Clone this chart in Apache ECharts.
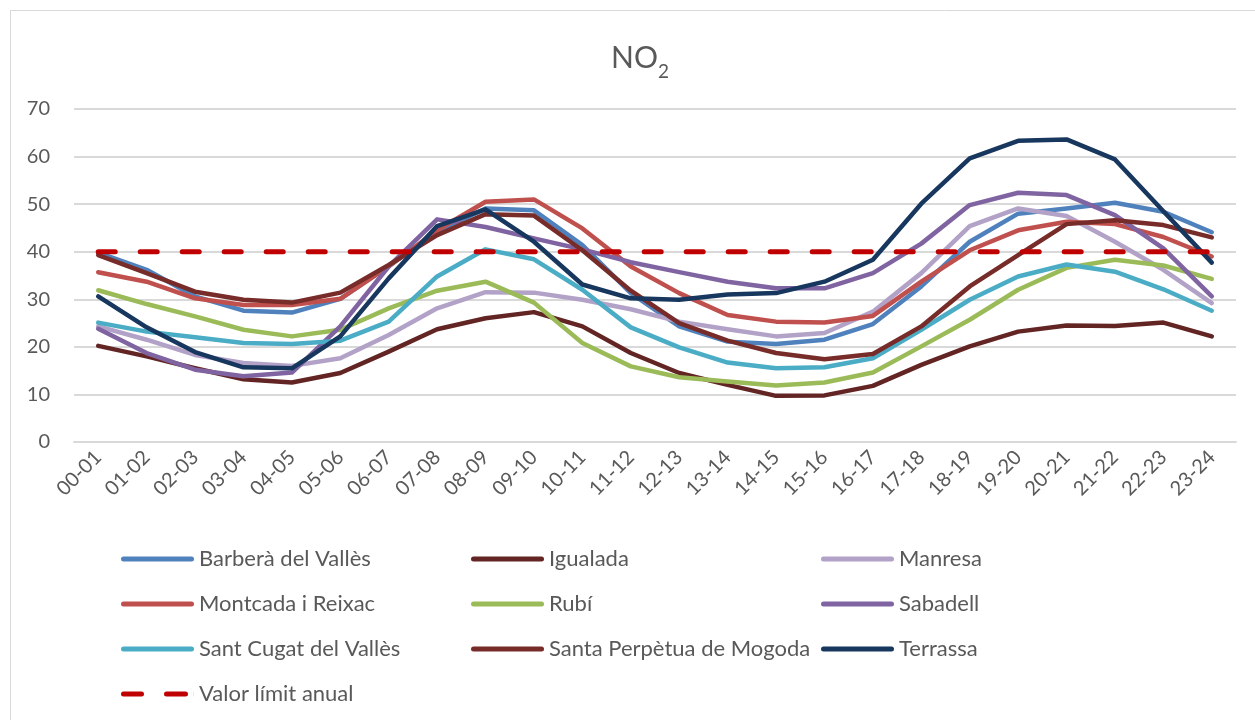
<!DOCTYPE html>
<html lang="ca">
<head>
<meta charset="UTF-8">
<title>NO2</title>
<style>
    html, body { margin: 0; padding: 0; background: #fff; }
    #echart { width: 1255px; height: 720px; }
</style>
</head>
<body>

<div id="echart"></div>

<script src="https://cdn.jsdelivr.net/npm/echarts@6/dist/echarts.min.js"></script>
<script>
    const hours = ["00-01", "01-02", "02-03", "03-04", "04-05", "05-06", "06-07", "07-08", "08-09", "09-10", "10-11", "11-12",
        "12-13", "13-14", "14-15", "15-16", "16-17", "17-18", "18-19", "19-20", "20-21", "21-22", "22-23", "23-24"];
    const yTicks = [0, 10, 20, 30, 40, 50, 60, 70];

    const barbera = [39.8, 36.2, 30.6, 27.6, 27.2, 30.1, 37.0, 44.2, 49.1, 48.7, 41.4, 31.3, 24.3, 21.1, 20.6, 21.5, 24.8, 32.7, 42.1, 48.0, 49.1, 50.3, 48.4, 44.1];
    const igualada = [20.2, 18.0, 15.5, 13.2, 12.5, 14.5, 19.0, 23.7, 26.0, 27.3, 24.3, 18.7, 14.5, 12.0, 9.7, 9.8, 11.8, 16.2, 20.1, 23.2, 24.5, 24.4, 25.1, 22.2];
    const manresa = [24.3, 21.5, 18.3, 16.6, 16.0, 17.6, 22.5, 28.1, 31.5, 31.4, 29.9, 27.9, 25.3, 23.7, 22.2, 22.9, 27.4, 35.5, 45.4, 49.1, 47.5, 42.1, 36.2, 29.2];
    const montcada = [35.7, 33.7, 30.2, 28.8, 28.8, 30.1, 36.9, 44.5, 50.5, 51.0, 44.9, 36.9, 31.3, 26.7, 25.3, 25.1, 26.5, 33.7, 40.3, 44.5, 46.3, 45.8, 43.1, 39.0];
    const rubi = [31.9, 29.0, 26.4, 23.6, 22.2, 23.6, 28.1, 31.8, 33.7, 29.3, 20.8, 15.9, 13.6, 12.7, 11.9, 12.5, 14.6, 20.1, 25.7, 32.0, 36.6, 38.3, 37.1, 34.3];
    const sabadell = [23.8, 18.7, 15.2, 13.8, 14.6, 24.3, 36.9, 46.8, 45.2, 42.8, 40.5, 37.8, 35.7, 33.7, 32.3, 32.3, 35.5, 41.7, 49.8, 52.4, 51.9, 47.7, 40.7, 30.6];
    const santCugat = [25.1, 23.2, 22.0, 20.8, 20.6, 21.3, 25.3, 34.8, 40.5, 38.4, 32.0, 24.1, 19.9, 16.7, 15.5, 15.7, 17.6, 23.6, 29.9, 34.8, 37.3, 35.8, 32.1, 27.6];
    const santaPerpetua = [39.3, 35.5, 31.6, 29.9, 29.3, 31.4, 37.2, 43.5, 47.9, 47.6, 40.3, 31.8, 25.0, 21.3, 18.7, 17.4, 18.5, 24.3, 32.7, 39.3, 45.8, 46.6, 45.6, 43.0];
    const terrassa = [30.6, 24.1, 18.9, 15.7, 15.5, 22.2, 34.4, 45.4, 48.9, 42.1, 33.1, 30.2, 29.9, 31.0, 31.3, 33.7, 38.3, 50.1, 59.6, 63.3, 63.6, 59.4, 48.5, 37.7];
    const valorLimit = [40, 40, 40, 40, 40, 40, 40, 40, 40, 40, 40, 40, 40, 40, 40, 40, 40, 40, 40, 40, 40, 40, 40, 40];

    const myChart = echarts.init(document.getElementById("echart"));

    const txt = "#595959";
    const font = "Lato, 'Open Sans', sans-serif";

    // legend icons: a rounded bar, and two dashes for the limit line
    const solidIcon = "path://M2.5,0 L70.5,0 A2.5,2.5 0 0 1 70.5,5 L2.5,5 A2.5,2.5 0 0 1 2.5,0 Z";
    const dashIcon = "path://M2.5,0 L20.5,0 A2.5,2.5 0 0 1 20.5,5 L2.5,5 A2.5,2.5 0 0 1 2.5,0 Z " +
        "M45.5,0 L64.5,0 A2.5,2.5 0 0 1 64.5,5 L45.5,5 A2.5,2.5 0 0 1 45.5,0 Z M72.9,0 L73,0 L73,5 L72.9,5 Z";

    // name, data, colour
    const stations = [
        ["Barberà del Vallès", barbera, "#4F81BD"],
        ["Igualada", igualada, "#632523"],
        ["Manresa", manresa, "#B3A2C7"],
        ["Montcada i Reixac", montcada, "#C0504D"],
        ["Rubí", rubi, "#9BBB59"],
        ["Sabadell", sabadell, "#8064A2"],
        ["Sant Cugat del Vallès", santCugat, "#4BACC6"],
        ["Santa Perpètua de Mogoda", santaPerpetua, "#772C2A"],
        ["Terrassa", terrassa, "#17375E"]
    ];

    const series = stations.map(([name, data, color]) => ({
        name: name,
        type: "line",
        data: data,
        symbol: "none",
        color: color,
        lineStyle: { width: 4.5, color: color, cap: "round", join: "round" }
    }));
    series.push({
        name: "Valor límit anual",
        type: "line",
        data: valorLimit,
        symbol: "none",
        color: "#C00000",
        lineStyle: { width: 5, color: "#C00000", type: [17, 25], cap: "round" }
    });

    const item = (name) => ({ name: name, icon: name === "Valor límit anual" ? dashIcon : solidIcon });

    const legendBase = {
        orient: "vertical",
        top: 543,
        itemWidth: 73,
        itemHeight: 14,
        itemGap: 23,
        textStyle: { color: txt, fontSize: 22, fontFamily: font, lineHeight: 20 }
    };

    const option = {
        backgroundColor: "#fff",
        animation: false,
        title: {
            text: "{a|NO}{b|2}",
            left: 606,
            top: 38,
            textStyle: {
                rich: {
                    a: { fontSize: 30, fontWeight: "normal", fontFamily: font, color: txt, lineHeight: 38, verticalAlign: "top" },
                    b: { fontSize: 19, fontWeight: "normal", fontFamily: font, color: txt, lineHeight: 19, verticalAlign: "bottom" }
                }
            }
        },
        graphic: [{
            type: "rect",
            shape: { x: 10.5, y: 10.5, width: 1260, height: 720 },
            style: { fill: "none", stroke: "#d9d9d9", lineWidth: 1 },
            silent: true
        }],
        legend: [
            Object.assign({}, legendBase, { left: 116, data: ["Barberà del Vallès", "Montcada i Reixac", "Sant Cugat del Vallès", "Valor límit anual"].map(item) }),
            Object.assign({}, legendBase, { left: 466, data: ["Igualada", "Rubí", "Santa Perpètua de Mogoda"].map(item) }),
            Object.assign({}, legendBase, { left: 816, data: ["Manresa", "Sabadell", "Terrassa"].map(item) })
        ],
        grid: { left: 74, right: 19, top: 109, bottom: 278 },
        xAxis: {
            type: "category",
            data: hours,
            boundaryGap: true,
            axisLine: { lineStyle: { color: "#d9d9d9", width: 2 } },
            axisTick: { show: false },
            axisLabel: { rotate: 45, interval: 0, margin: 12, color: txt, fontSize: 20, fontFamily: font }
        },
        yAxis: {
            type: "value",
            min: yTicks[0],
            max: yTicks[yTicks.length - 1],
            interval: 10,
            axisLine: { show: false },
            axisTick: { show: false },
            axisLabel: { margin: 24, color: txt, fontSize: 20, fontFamily: font },
            splitLine: { lineStyle: { color: "#d9d9d9", width: 2 } }
        },
        series: series
    };

    myChart.setOption(option);
</script>

</body>
</html>
